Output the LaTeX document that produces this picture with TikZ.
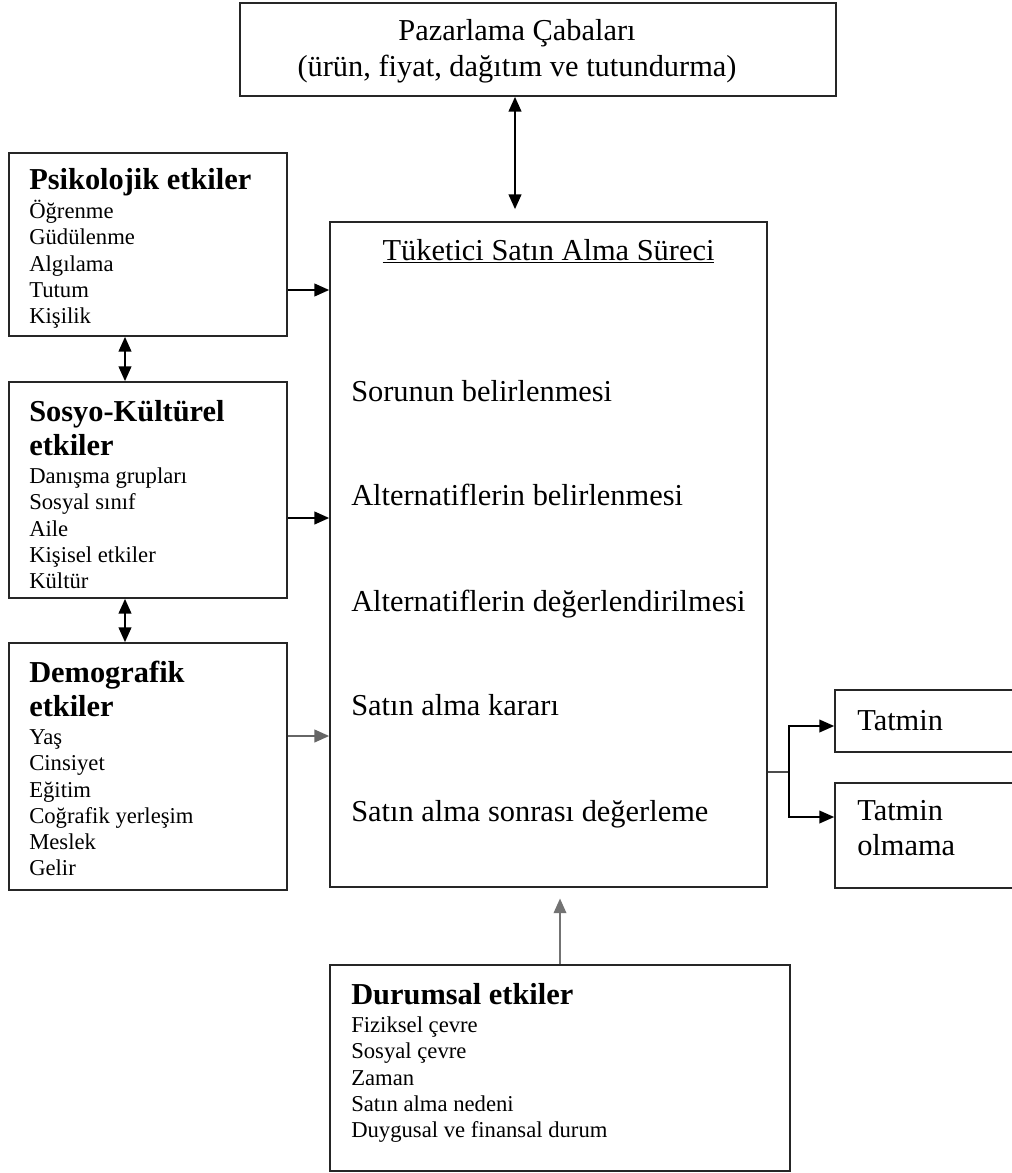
\documentclass[tikz,border=0pt]{standalone}
\usepackage{fontspec}
\setmainfont{Liberation Serif}
\usetikzlibrary{arrows.meta,fit}
\newcommand\Ln[2]{\hbox{\vrule height #1 depth 0pt width 0pt\smash{#2}}}
\newcommand\Blk[1]{\vtop{\offinterlineskip #1}}
\newcommand\hdf{\fontsize{22.8pt}{27pt}\selectfont\bfseries}
\newcommand\itf{\fontsize{17pt}{20pt}\selectfont}
\newcommand\mnf{\fontsize{22.8pt}{27pt}\selectfont}
\newcommand\Hd[1]{\Ln{0pt}{\hdf #1}}
\newcommand\HdB[1]{\Ln{25.5pt}{\hdf #1}}
\newcommand\FirstIt[1]{\Ln{21.4pt}{\itf #1}}
\newcommand\It[1]{\Ln{19.7pt}{\itf #1}}
\begin{document}
\begin{tikzpicture}[x=0.75pt,y=-0.75pt,
  box/.style={draw=black!85, line width=1.3pt, inner sep=0pt},
  txt/.style={inner sep=0pt, anchor=base west},
  ctxt/.style={inner sep=0pt, anchor=base},
  tip/.tip={Triangle[length=11pt,width=9.5pt]},
  arr/.style={line width=1.3pt, -tip},
  darr/.style={line width=1.3pt, tip-tip},
]
\useasboundingbox (0,0) rectangle (1011,1173);
\fill[white] (0,0) rectangle (1011,1173);

% boxes
\node[box, fit={(240,3)(836,96)}] (pc) {};
\node[box, fit={(330,222)(767,887)}] (tsa) {};
\node[box, fit={(9,153)(287,336)}] (psi) {};
\node[box, fit={(9,382)(287,598)}] (sos) {};
\node[box, fit={(9,643)(287,890)}] (dem) {};
\node[box, fit={(330,965)(790,1171)}] (dur) {};
\node[box, fit={(835,690)(1016,752)}] (tat) {};
\node[box, fit={(835,783)(1016,888)}] (tao) {};

% texts
\node[ctxt] (pct1) at (517,41) {\mnf Pazarlama Çabaları};
\node[ctxt] (pct2) at (517,77) {\mnf (ürün, fiyat, dağıtım ve tutundurma)};

\node[ctxt] (tsat) at (548.5,260) {\mnf\underline{Tüketici Satın Alma Süreci}};
\node[txt] (s1) at (351,401) {\mnf Sorunun belirlenmesi};
\node[txt] (s2) at (351,505) {\mnf Alternatiflerin belirlenmesi};
\node[txt] (s3) at (351,611) {\mnf Alternatiflerin değerlendirilmesi};
\node[txt] (s4) at (351,715) {\mnf Satın alma kararı};
\node[txt] (s5) at (351,821) {\mnf Satın alma sonrası değerleme};

\node[txt] (psit) at (29,190) {\Blk{\Hd{Psikolojik etkiler}\FirstIt{Öğrenme}\It{Güdülenme}\It{Algılama}\It{Tutum}\It{Kişilik}}};
\node[txt] (sost) at (29,421) {\Blk{\Hd{Sosyo-Kültürel}\HdB{etkiler}\FirstIt{Danışma grupları}\It{Sosyal sınıf}\It{Aile}\It{Kişisel etkiler}\It{Kültür}}};
\node[txt] (demt) at (29,682) {\Blk{\Hd{Demografik}\HdB{etkiler}\FirstIt{Yaş}\It{Cinsiyet}\It{Eğitim}\It{Coğrafik yerleşim}\It{Meslek}\It{Gelir}}};
\node[txt] (durt) at (351,1004) {\Blk{\Hd{Durumsal etkiler}\FirstIt{Fiziksel çevre}\It{Sosyal çevre}\It{Zaman}\It{Satın alma nedeni}\It{Duygusal ve finansal durum}}};

\node[txt] (tatt) at (857,730) {\mnf Tatmin};
\node[txt] (taot) at (857,820) {\Blk{\Ln{0pt}{\mnf Tatmin}\Ln{26.25pt}{\mnf olmama}}};

% helper coordinates
\coordinate (ax) at (515,0);
\coordinate (dx) at (125,0);
\coordinate (ux) at (560,0);
\coordinate (y1) at (0,290);
\coordinate (y2) at (0,518);
\coordinate (y3) at (0,736);
\coordinate (br) at (789,772);
\coordinate (bt) at (789,726);
\coordinate (bb) at (789,817);

% connectors
\draw[darr, shorten >=9pt] (pc.south -| ax) -- (tsa.north -| ax);
\draw[arr] (psi.east |- y1) -- (tsa.west |- y1);
\draw[arr] (sos.east |- y2) -- (tsa.west |- y2);
\draw[arr, draw=black!60] (dem.east |- y3) -- (tsa.west |- y3);
\draw[darr] (psi.south -| dx) -- (sos.north -| dx);
\draw[darr] (sos.south -| dx) -- (dem.north -| dx);
\draw[arr, draw=black!55, shorten >=8pt] (dur.north -| ux) -- (tsa.south -| ux);
\draw[line width=1pt, draw=black!70] (tsa.east |- br) -- (br);
\draw[arr, line width=1pt] (br) |- (tat.west |- bt);
\draw[arr, line width=1pt] (br) |- (tao.west |- bb);
\end{tikzpicture}
\end{document}
